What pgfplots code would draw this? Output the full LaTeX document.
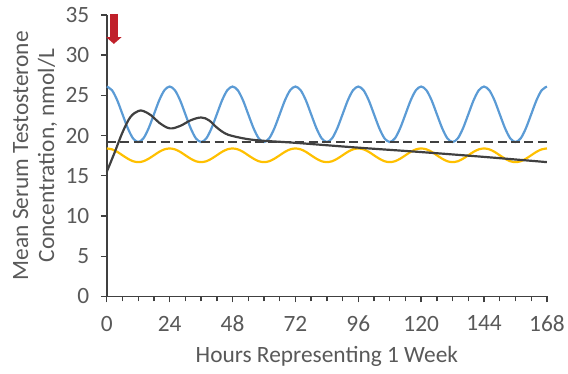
\documentclass[border=0pt]{standalone}
\usepackage{pgfplots}
\pgfplotsset{compat=1.18}
\usepackage{pgfplotstable}
\usepackage{fontspec}
\setmainfont{Carlito}
\usetikzlibrary{arrows.meta}
\definecolor{txt}{HTML}{595959}
\definecolor{axl}{HTML}{404040}
\definecolor{cblue}{HTML}{5B9BD5}
\definecolor{cyel}{HTML}{FFC000}
\definecolor{cblk}{HTML}{404040}
\definecolor{cred}{HTML}{C0202A}
\pgfplotstableread{
t blue yel
0 26.10 18.40
2 25.64 18.29
4 24.38 17.98
6 22.65 17.55
8 20.93 17.13
10 19.66 16.81
12 19.20 16.70
14 19.66 16.81
16 20.93 17.13
18 22.65 17.55
20 24.38 17.98
22 25.64 18.29
24 26.10 18.40
26 25.64 18.29
28 24.38 17.98
30 22.65 17.55
32 20.93 17.13
34 19.66 16.81
36 19.20 16.70
38 19.66 16.81
40 20.93 17.13
42 22.65 17.55
44 24.38 17.98
46 25.64 18.29
48 26.10 18.40
50 25.64 18.29
52 24.38 17.98
54 22.65 17.55
56 20.93 17.13
58 19.66 16.81
60 19.20 16.70
62 19.66 16.81
64 20.93 17.13
66 22.65 17.55
68 24.38 17.98
70 25.64 18.29
72 26.10 18.40
74 25.64 18.29
76 24.38 17.98
78 22.65 17.55
80 20.93 17.13
82 19.66 16.81
84 19.20 16.70
86 19.66 16.81
88 20.93 17.13
90 22.65 17.55
92 24.38 17.98
94 25.64 18.29
96 26.10 18.40
98 25.64 18.29
100 24.38 17.98
102 22.65 17.55
104 20.93 17.13
106 19.66 16.81
108 19.20 16.70
110 19.66 16.81
112 20.93 17.13
114 22.65 17.55
116 24.38 17.98
118 25.64 18.29
120 26.10 18.40
122 25.64 18.29
124 24.38 17.98
126 22.65 17.55
128 20.93 17.13
130 19.66 16.81
132 19.20 16.70
134 19.66 16.81
136 20.93 17.13
138 22.65 17.55
140 24.38 17.98
142 25.64 18.29
144 26.10 18.40
146 25.64 18.29
148 24.38 17.98
150 22.65 17.55
152 20.93 17.13
154 19.66 16.81
156 19.20 16.70
158 19.66 16.81
160 20.93 17.13
162 22.65 17.55
164 24.38 17.98
166 25.64 18.29
168 26.10 18.40
}\osc
\pgfplotstableread{
t y
0 15.5
3 17.9
6 20.4
9 22.3
12 23.05
14 23.05
17 22.5
20 21.6
24 20.9
28 21.2
32 21.9
36 22.25
39 21.9
42 21.0
45 20.3
48 19.95
54 19.55
60 19.35
72 19.1
96 18.5
120 17.95
144 17.35
168 16.7
}\blk
\begin{document}
\begin{tikzpicture}
\begin{axis}[
  scale only axis,
  width=441bp, height=282bp,
  xmin=0, xmax=168, ymin=0, ymax=35,
  axis x line*=bottom, axis y line*=left,
  axis line style={draw=axl, line width=1.8bp},
  xtick={0,24,...,168},
  minor xtick={6,12,...,162},
  ytick={0,5,...,35},
  tick align=outside,
  major tick length=6bp, minor tick length=5bp,
  every tick/.style={draw=axl, line width=1.4bp},
  tick label style={font=\fontsize{23.5}{26}\selectfont, text=txt},
  /pgf/number format/assume math mode=true,
  xticklabel style={yshift=-10bp},
  yticklabel style={xshift=-8bp},
  xlabel={Hours Representing 1 Week},
  xlabel style={font=\fontsize{23.5}{26}\selectfont, text=txt, at={(rel axis cs:0.5,0)}, anchor=center, yshift=-60bp},
  ylabel={Mean Serum Testosterone\\Concentration, nmol/L},
  ylabel style={font=\fontsize{23.5}{26}\selectfont, text=txt, align=center, at={(axis description cs:-0.163,0.5)}, anchor=center},
  clip=false,
]
\addplot[cyel, line width=2.2bp, smooth] table[x=t, y=yel] {\osc};
\addplot[cblue, line width=2.2bp, smooth] table[x=t, y=blue] {\osc};
\addplot[axl, line width=2.2bp, dash pattern=on 9bp off 4.5bp] coordinates {(0,19.25) (168,19.25)};
\addplot[cblk, line width=2.2bp, smooth, tension=0.6] table[x=t, y=y] {\blk};
\draw[cred, line width=7.7bp, -{Triangle[width=15bp,length=6.8bp]}] (axis cs:2.7,35.15) -- (axis cs:2.7,31.4);
\end{axis}
\path[use as bounding box] (-107bp,-77bp) rectangle (461bp,297bp);
\end{tikzpicture}
\end{document}
